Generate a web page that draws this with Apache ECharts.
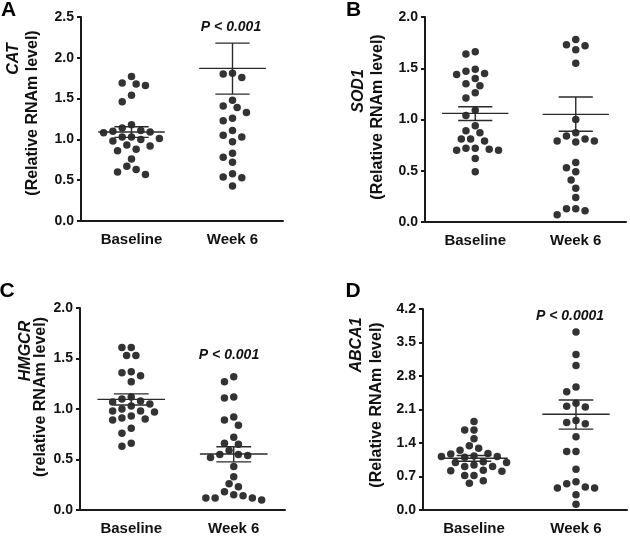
<!DOCTYPE html>
<html>
<head>
<meta charset="utf-8">
<script src="https://cdn.jsdelivr.net/npm/echarts@6/dist/echarts.min.js"></script>
<style>
html,body{margin:0;padding:0;background:#fff;}
#chart{width:630px;height:536px;}
</style>
</head>
<body>
<div id="chart"></div>
<script>
// ---------- data ----------
var categories = ['Baseline', 'Week 6'];

var catBaseline = [1.69,1.66,1.68,1.77,1.54,1.46,1.18,1.14,1.08,1.11,1.10,1.09,1.03,1.03,1.00,0.98,1.01,0.93,0.92,0.88,0.86,0.76,0.67,0.63,0.60,0.57];
var catWeek6 = [1.80,1.76,1.81,1.48,1.39,1.41,1.33,1.26,1.23,1.11,1.03,1.05,0.97,0.83,0.78,0.72,0.54,0.58,0.53,0.43];
var catStats = [[1.09,1.025,1.155],[1.87,1.555,2.18]]; // mean, lower SEM, upper SEM

var sodBaseline = [1.66,1.64,1.47,1.44,1.45,1.49,1.40,1.35,1.33,1.26,1.21,1.09,1.04,0.94,0.87,0.89,0.81,0.81,0.79,0.72,0.70,0.71,0.70,0.72,0.62,0.49];
var sodWeek6 = [1.78,1.73,1.72,1.68,1.55,1.00,0.87,0.84,0.79,0.78,0.79,0.81,0.58,0.53,0.49,0.41,0.33,0.24,0.13,0.07,0.11,0.13];
var sodStats = [[1.06,0.99,1.125],[1.05,0.885,1.22]];

var hmgBaseline = [1.61,1.61,1.53,1.53,1.37,1.33,1.36,1.27,1.12,1.10,1.05,1.07,1.08,1.03,1.00,0.97,0.98,0.98,0.91,0.93,0.89,0.90,0.81,0.76,0.63,0.66];
var hmgWeek6 = [1.32,1.27,1.12,1.11,0.92,0.89,0.84,0.72,0.66,0.65,0.59,0.55,0.54,0.52,0.55,0.43,0.33,0.26,0.23,0.18,0.14,0.12,0.10,0.12,0.12,0.15];
var hmgStats = [[1.095,1.04,1.15],[0.555,0.476,0.626]];

var abcBaseline = [1.85,1.67,1.67,1.49,1.34,1.29,1.25,1.18,1.17,1.12,1.10,1.12,1.13,1.01,0.99,0.99,0.94,0.91,0.91,0.83,0.81,0.82,0.72,0.72,0.61,0.56];
var abcWeek6 = [3.72,3.25,3.02,2.57,2.47,2.23,2.17,2.15,1.87,1.80,1.83,1.53,1.22,1.22,0.85,0.55,0.48,0.46,0.59,0.46,0.32,0.12];
var abcStats = [[1.08,1.02,1.14],[2.00,1.69,2.30]];

var geneNames = ['CAT', 'SOD1', 'HMGCR', 'ABCA1'];
var yTitles = ['(Relative RNAm level)', '(Relative RNAm level)', '(relative RNAm level)', '(Relative RNAm level)'];
var panelLetters = ['A', 'B', 'C', 'D'];
var pLabels = ['P < 0.001', null, 'P < 0.001', 'P < 0.0001'];
var yMax = [2.5, 2.0, 2.0, 4.2];
var yInterval = [0.5, 0.5, 0.5, 0.7];

// ---------- layout ----------
var FONT = "Arial, 'Liberation Sans', Helvetica, sans-serif";
var grids = [
  {left: 81, top: 17, width: 202, height: 204},
  {left: 425, top: 17, width: 201, height: 205},
  {left: 80, top: 308, width: 205, height: 204},
  {left: 423, top: 309, width: 204, height: 203}
];
var panels = [
  {groups: [catBaseline, catWeek6], stats: catStats},
  {groups: [sodBaseline, sodWeek6], stats: sodStats},
  {groups: [hmgBaseline, hmgWeek6], stats: hmgStats},
  {groups: [abcBaseline, abcWeek6], stats: abcStats}
];
var geneTitlePos = [[13.5, 59], [359, 91], [26, 351], [357, 345]];
var yTitlePos = [[33, 113], [378, 117], [41, 397], [377, 405]];
var letterPos = [[8.5, 10], [353.5, 10], [7, 291], [353, 291]];
var pPos = [[231, 27], null, [229, 355.5], [570, 316]];

// beeswarm horizontal offsets (pixels), computed from values on the pixel scale
function swarm(values, pxPerUnit) {
  var D = 8.4, step = 4.65;
  var idx = values.map(function (v, i) { return i; })
    .sort(function (a, b) { return values[b] - values[a]; });
  var placed = [], off = new Array(values.length);
  idx.forEach(function (i) {
    var y = values[i] * pxPerUnit;
    for (var k = 0; k < 60; k++) {
      var c = k === 0 ? 0 : (k % 2 ? -1 : 1) * Math.ceil(k / 2) * step;
      var ok = placed.every(function (p) {
        var dx = p.x - c, dy = p.y - y;
        return dx * dx + dy * dy >= D * D - 0.01;
      });
      if (ok) { off[i] = c; placed.push({x: c, y: y}); break; }
    }
  });
  return off;
}

var axisColor = '#1a1a1a';
var option = {
  animation: false,
  backgroundColor: '#fff',
  grid: grids.map(function (g) { return Object.assign({containLabel: false}, g); }),
  xAxis: grids.map(function (g, i) {
    return {
      type: 'category', gridIndex: i, data: categories, boundaryGap: true,
      axisLine: {lineStyle: {color: axisColor, width: 2}},
      axisTick: {show: false},
      axisLabel: {color: '#111', fontFamily: FONT, fontWeight: 'bold', fontSize: 15, margin: 11}
    };
  }),
  yAxis: grids.map(function (g, i) {
    return {
      type: 'value', gridIndex: i, min: 0, max: yMax[i], interval: yInterval[i],
      splitLine: {show: false},
      axisLine: {show: true, lineStyle: {color: axisColor, width: 2}},
      axisTick: {show: true, length: 4, lineStyle: {color: axisColor, width: 2}},
      axisLabel: {color: '#111', fontFamily: FONT, fontWeight: 'bold', fontSize: 14, margin: 7,
        formatter: function (v) { return v.toFixed(1); }}
    };
  }),
  series: [],
  graphic: []
};

panels.forEach(function (p, i) {
  var pxPerUnit = grids[i].height / yMax[i];
  var data = [];
  p.groups.forEach(function (vals, ci) {
    var offs = swarm(vals, pxPerUnit);
    vals.forEach(function (v, j) {
      data.push({value: [ci, v], symbolOffset: [offs[j], 0]});
    });
  });
  option.series.push({
    type: 'scatter', xAxisIndex: i, yAxisIndex: i, symbol: 'circle', symbolSize: 7.5,
    itemStyle: {color: '#000'}, data: data, z: 2
  });
  option.series.push({
    type: 'custom', xAxisIndex: i, yAxisIndex: i, z: 3,
    data: p.stats.map(function (s, ci) { return [ci, s[0], s[1], s[2]]; }),
    renderItem: function (params, api) {
      var x = api.value(0);
      var c = api.coord([x, api.value(1)]);
      var lo = api.coord([x, api.value(2)]);
      var hi = api.coord([x, api.value(3)]);
      var bw = api.size([1, 0])[0];
      var mw = bw * 0.33, cw = bw * 0.17;
      var st = {stroke: '#2a2a2a', lineWidth: 1.4};
      return {type: 'group', children: [
        {type: 'line', shape: {x1: c[0] - mw, y1: c[1], x2: c[0] + mw, y2: c[1]}, style: st},
        {type: 'line', shape: {x1: c[0] - cw, y1: lo[1], x2: c[0] + cw, y2: lo[1]}, style: st},
        {type: 'line', shape: {x1: c[0] - cw, y1: hi[1], x2: c[0] + cw, y2: hi[1]}, style: st},
        {type: 'line', shape: {x1: c[0], y1: lo[1], x2: c[0], y2: hi[1]}, style: st}
      ]};
    }
  });

  option.graphic.push({
    type: 'text', x: geneTitlePos[i][0], y: geneTitlePos[i][1], rotation: Math.PI / 2,
    style: {text: geneNames[i], font: 'italic bold 16px ' + FONT, fill: '#111',
      textAlign: 'center', textVerticalAlign: 'middle', align: 'center', verticalAlign: 'middle'}
  });
  option.graphic.push({
    type: 'text', x: yTitlePos[i][0], y: yTitlePos[i][1], rotation: Math.PI / 2,
    style: {text: yTitles[i], font: 'bold 16px ' + FONT, fill: '#111',
      textAlign: 'center', textVerticalAlign: 'middle', align: 'center', verticalAlign: 'middle'}
  });
  option.graphic.push({
    type: 'text', x: letterPos[i][0], y: letterPos[i][1],
    style: {text: panelLetters[i], font: 'bold 21px ' + FONT, fill: '#000',
      textAlign: 'center', textVerticalAlign: 'middle', align: 'center', verticalAlign: 'middle'}
  });
  if (pLabels[i]) {
    option.graphic.push({
      type: 'text', x: pPos[i][0], y: pPos[i][1],
      style: {text: pLabels[i], font: 'italic bold 14px ' + FONT, fill: '#111',
        textAlign: 'center', textVerticalAlign: 'middle', align: 'center', verticalAlign: 'middle'}
    });
  }
});

var chart = echarts.init(document.getElementById('chart'), null, {renderer: 'canvas'});
chart.setOption(option);
</script>
</body>
</html>
